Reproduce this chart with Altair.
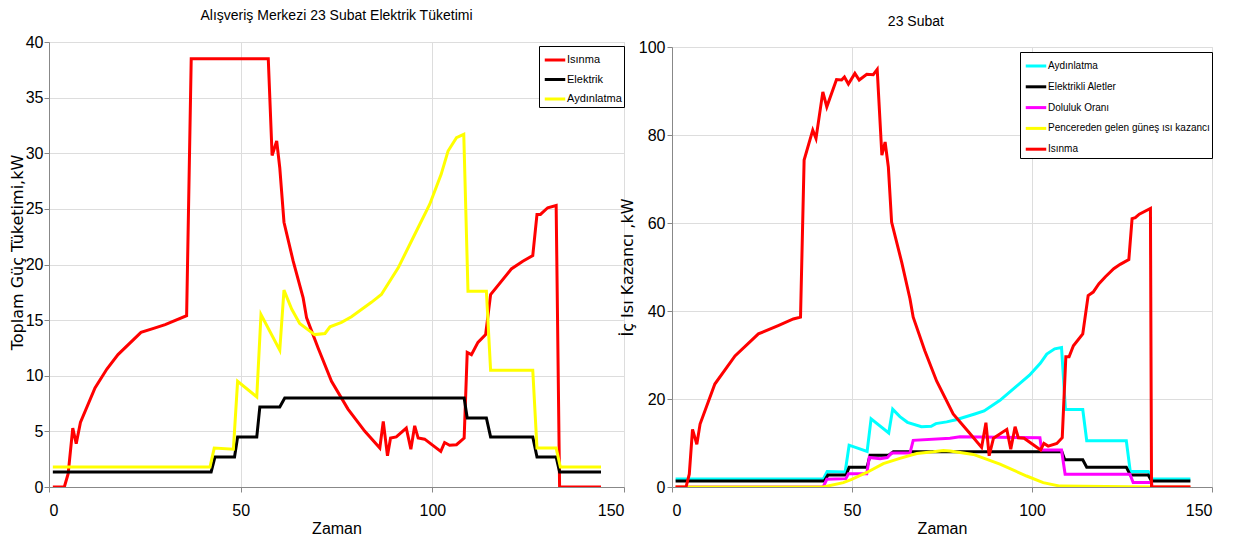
import altair as alt
import pandas as pd

NARROW = "Liberation Sans, Arial, sans-serif"
WIDE = "DejaVu Sans, Liberation Sans, sans-serif"

# ---------------- Left chart data (kW) ----------------
left_isinma_x = [1, 4, 5, 6.2, 7.1, 8.2, 12, 15.1, 18, 24, 27.7, 30.3, 35.9, 37.1, 57.2, 58.2, 59.4,
                 60.2, 61.3, 63.7, 66.3, 67.2, 70.2, 73.7, 78, 82.4, 86.3, 87.2, 88.3, 89.1, 90.6,
                 93.2, 94.4, 95.4, 96.3, 98, 102.2, 103.2, 104.5, 106.3, 108.3, 109.1, 110.2, 111.9,
                 113.9, 115.2, 120.6, 123.6, 126.2, 127.3, 128.2, 130.1, 132.3, 133.2, 144]
left_isinma_y = [0, 0, 1.2, 5.3, 3.9, 5.8, 8.9, 10.6, 11.9, 13.9, 14.3, 14.6, 15.4, 38.5, 38.5, 29.8, 31.1,
                 28.7, 23.8, 20.3, 17.0, 15.2, 12.5, 9.5, 7.0, 5.0, 3.5, 5.9, 2.8, 4.4, 4.5,
                 5.3, 3.4, 5.5, 4.4, 4.3, 3.2, 4.0, 3.75, 3.8, 4.4, 12.1, 11.9, 13.0,
                 13.7, 17.3, 19.6, 20.3, 20.8, 24.5, 24.5, 25.1, 25.3, 0, 0]

elektrik_x = [1, 42.3, 43.3, 48.4, 49.2, 54.2, 55.0, 60.2, 61.5, 108.3, 109.1, 114.1, 115.2,
              126.2, 127.3, 132.3, 133.2, 144]
elektrik_y = [1.35, 1.35, 2.7, 2.7, 4.5, 4.5, 7.2, 7.2, 8.0, 8.0, 6.2, 6.2, 4.5,
              4.5, 2.7, 2.7, 1.35, 1.35]

aydinlatma_x = [1, 42, 43.1, 48.1, 49.2, 54.2, 55.3, 60.2, 61.3, 63.3, 65.4, 69.3, 72, 73.3, 76.3,
                78.9, 84.1, 86.7, 91.1, 95.4, 99.3, 102.3, 104.1, 106.3, 108.2, 109.3, 114.1, 115.2,
                126.2, 127.3, 132.3, 133.4, 144]
aydinlatma_y = [1.8, 1.8, 3.5, 3.4, 9.5, 8.1, 15.5, 12.3, 17.7, 16.0, 14.7, 13.7, 13.8, 14.4, 14.8,
                15.3, 16.6, 17.3, 19.7, 22.7, 25.4, 28.1, 30.2, 31.4, 31.7, 17.6, 17.6, 10.5,
                10.5, 3.5, 3.5, 1.8, 1.8]

# ---------------- Right chart data (kW) ----------------
doluluk_x = [1, 42, 43, 48.3, 49, 54.1, 54.8, 57.8, 59.8, 61, 66.1, 67, 77.2, 80, 102.2, 102.7,
             108.2, 109.2, 127.2, 128.1, 133.2, 133.4, 144]
doluluk_y = [0, 0, 1.75, 1.9, 3.0, 3.0, 6.7, 6.4, 6.7, 7.7, 7.7, 10.6, 11.1, 11.4, 11.2, 8.4,
             8.4, 2.9, 2.9, 1.0, 1.0, 0, 0]

gunes_x = [1, 42, 47.6, 49.9, 54.1, 58.7, 63.3, 68, 72.6, 75.4, 77.2, 83.7, 91.1, 98.5, 103.1,
           107.8, 133.2, 144]
gunes_y = [0, 0, 1.0, 1.75, 3.3, 5.3, 6.5, 7.6, 8.0, 8.3, 8.2, 7.4, 5.2, 2.5, 1.0,
           0.2, 0, 0]

right_isinma_x = [1, 3.9, 4.8, 5.7, 6.9, 7.8, 11.9, 17.5, 24, 29.5, 33.7, 35.7, 36.7, 39.1, 40, 41.9,
                  43, 45.7, 47.1, 47.9, 49, 50.8, 52, 54.1, 55.9, 57, 58.3, 59.2, 60.1, 61, 63.8,
                  66.1, 67, 70.2, 73.5, 78.1, 82.4, 86, 87.2, 88.1, 89.3, 93, 94.1, 95.3, 96.2, 97.8,
                  102.4, 103.3, 104.5, 106.9, 108.4, 109.4, 110.3, 111.5, 114.1, 115.6, 117,
                  118.6, 120.4, 122.7, 124.5, 126.9, 127.8, 128.7, 129.8, 132.9, 133.2, 144]
right_isinma_y = [0, 0, 2.9, 13.1, 9.7, 14.3, 23.4, 29.8, 34.8, 36.7, 38.2, 38.6, 74.3, 81.1, 79.2, 89.8,
                  86.4, 92.6, 92.5, 93.2, 91.6, 94.0, 92.5, 93.8, 93.7, 94.9, 75.4, 78.4, 72.7, 60.2, 51.1,
                  42.8, 38.6, 31.0, 24.1, 16.6, 12.5, 9.0, 14.6, 7.1, 11.1, 13.1, 8.6, 13.7, 11.2, 11.1,
                  8.4, 9.9, 9.3, 9.9, 11.2, 29.6, 29.6, 32.1, 34.8, 43.5, 44.3,
                  46.2, 47.8, 49.6, 50.6, 51.7, 61.0, 61.2, 62.0, 63.3, 0, 0]

x_ticks = [0, 50, 100, 150]
left_y_ticks = [0, 5, 10, 15, 20, 25, 30, 35, 40]
right_y_ticks = [0, 20, 40, 60, 80, 100]

left_names = ["Isınma", "Elektrik", "Aydınlatma"]
left_colors = ["#ff0000", "#000000", "#ffff00"]
right_names = ["Aydınlatma", "Elektrikli Aletler", "Doluluk Oranı",
               "Pencereden gelen güneş ısı kazancı", "Isınma"]
right_colors = ["#00ffff", "#000000", "#ff00ff", "#ffff00", "#ff0000"]


def frame(xs, ys, name):
    return pd.DataFrame({"t": xs, "v": ys, "s": [name] * len(xs)})


left_df = pd.concat([
    frame(left_isinma_x, left_isinma_y, "Isınma"),
    frame(elektrik_x, elektrik_y, "Elektrik"),
    frame(aydinlatma_x, aydinlatma_y, "Aydınlatma"),
], ignore_index=True)

right_df = pd.concat([
    frame(aydinlatma_x, aydinlatma_y, "Aydınlatma"),
    frame(elektrik_x, elektrik_y, "Elektrikli Aletler"),
    frame(doluluk_x, doluluk_y, "Doluluk Oranı"),
    frame(gunes_x, gunes_y, "Pencereden gelen güneş ısı kazancı"),
    frame(right_isinma_x, right_isinma_y, "Isınma"),
], ignore_index=True)


def legend(x, y, size, rowpad):
    return alt.Legend(title=None, orient="none", legendX=x, legendY=y,
                      strokeColor="black", fillColor="white", padding=2,
                      symbolType="stroke", symbolStrokeWidth=3, symbolSize=420,
                      symbolOffset=2, rowPadding=rowpad, labelOffset=0, labelLimit=0,
                      labelFont=NARROW, labelFontSize=size, labelColor="black")


def x_axis():
    return alt.Axis(values=x_ticks, title="Zaman", titleFont=NARROW, titleFontSize=16,
                    titleFontWeight="normal", titlePadding=2, labelPadding=10,
                    format="d", labelFont=NARROW, labelFontSize=16)


def panel(df, names, colors, ydom, yticks, ytitle, leg, tpad, lpad, ty=None):
    yaxis_kw = dict(values=yticks, title=ytitle, titleFont=WIDE, titleFontSize=16,
                    titleFontWeight="normal", titlePadding=tpad, labelPadding=lpad,
                    format="d", labelFont=NARROW, labelFontSize=16)
    if ty is not None:
        yaxis_kw["titleY"] = ty
    base = alt.Chart(df).mark_line(strokeWidth=3, clip=True).encode(
        x=alt.X("t:Q", scale=alt.Scale(domain=[0, 150], nice=False), axis=x_axis()),
        y=alt.Y("v:Q", scale=alt.Scale(domain=ydom, nice=False), axis=alt.Axis(**yaxis_kw)),
        color=alt.Color("s:N", scale=alt.Scale(domain=names, range=colors), legend=leg),
    )
    layers = [base.transform_filter(alt.datum.s == n) for n in names]
    return alt.layer(*layers)


left = panel(left_df, left_names, left_colors, [0, 40], left_y_ticks,
             "Toplam Güç Tüketimi,kW", legend(490, 4, 11, 1.5), 0, 1, 210).properties(
    width=575, height=445,
    title=alt.TitleParams("Alışveriş Merkezi 23 Subat Elektrik Tüketimi", font=NARROW,
                          fontSize=14, fontWeight="normal", color="black", offset=11))

right_plot = panel(right_df, right_names, right_colors, [0, 100], right_y_ticks,
                   "İç Isı Kazancı ,kW", legend(348, 5, 10, 2.8), 3, 2).properties(
    width=540, height=440)

spacer = alt.Chart(pd.DataFrame({"a": [0]})).mark_point(opacity=0).encode(
    x=alt.X("a:Q", axis=None), y=alt.Y("a:Q", axis=None)
).properties(width=540, height=5, view=alt.ViewBackground(strokeOpacity=0))

right = alt.vconcat(spacer, right_plot, spacing=0, bounds="flush").resolve_scale(
    x="independent", y="independent", color="independent"
).properties(
    title=alt.TitleParams("23 Subat", font=NARROW, fontSize=14, fontWeight="normal",
                          color="black", offset=10, anchor="middle"))

chart = alt.hconcat(left, right, spacing=48, bounds="flush").resolve_scale(
    color="independent", x="independent", y="independent"
).resolve_legend(color="independent").properties(
    padding={"left": 0, "top": 0, "right": 5, "bottom": 0}
).configure_view(stroke="black", strokeWidth=1).configure_axis(
    domainColor="black", domainWidth=1, tickSize=0, grid=True, gridColor="#9a9a9a",
    gridWidth=1, labelColor="black", titleColor="black"
).configure(background="white")

chart.save("out.html", embed_options={"renderer": "svg", "actions": False})
